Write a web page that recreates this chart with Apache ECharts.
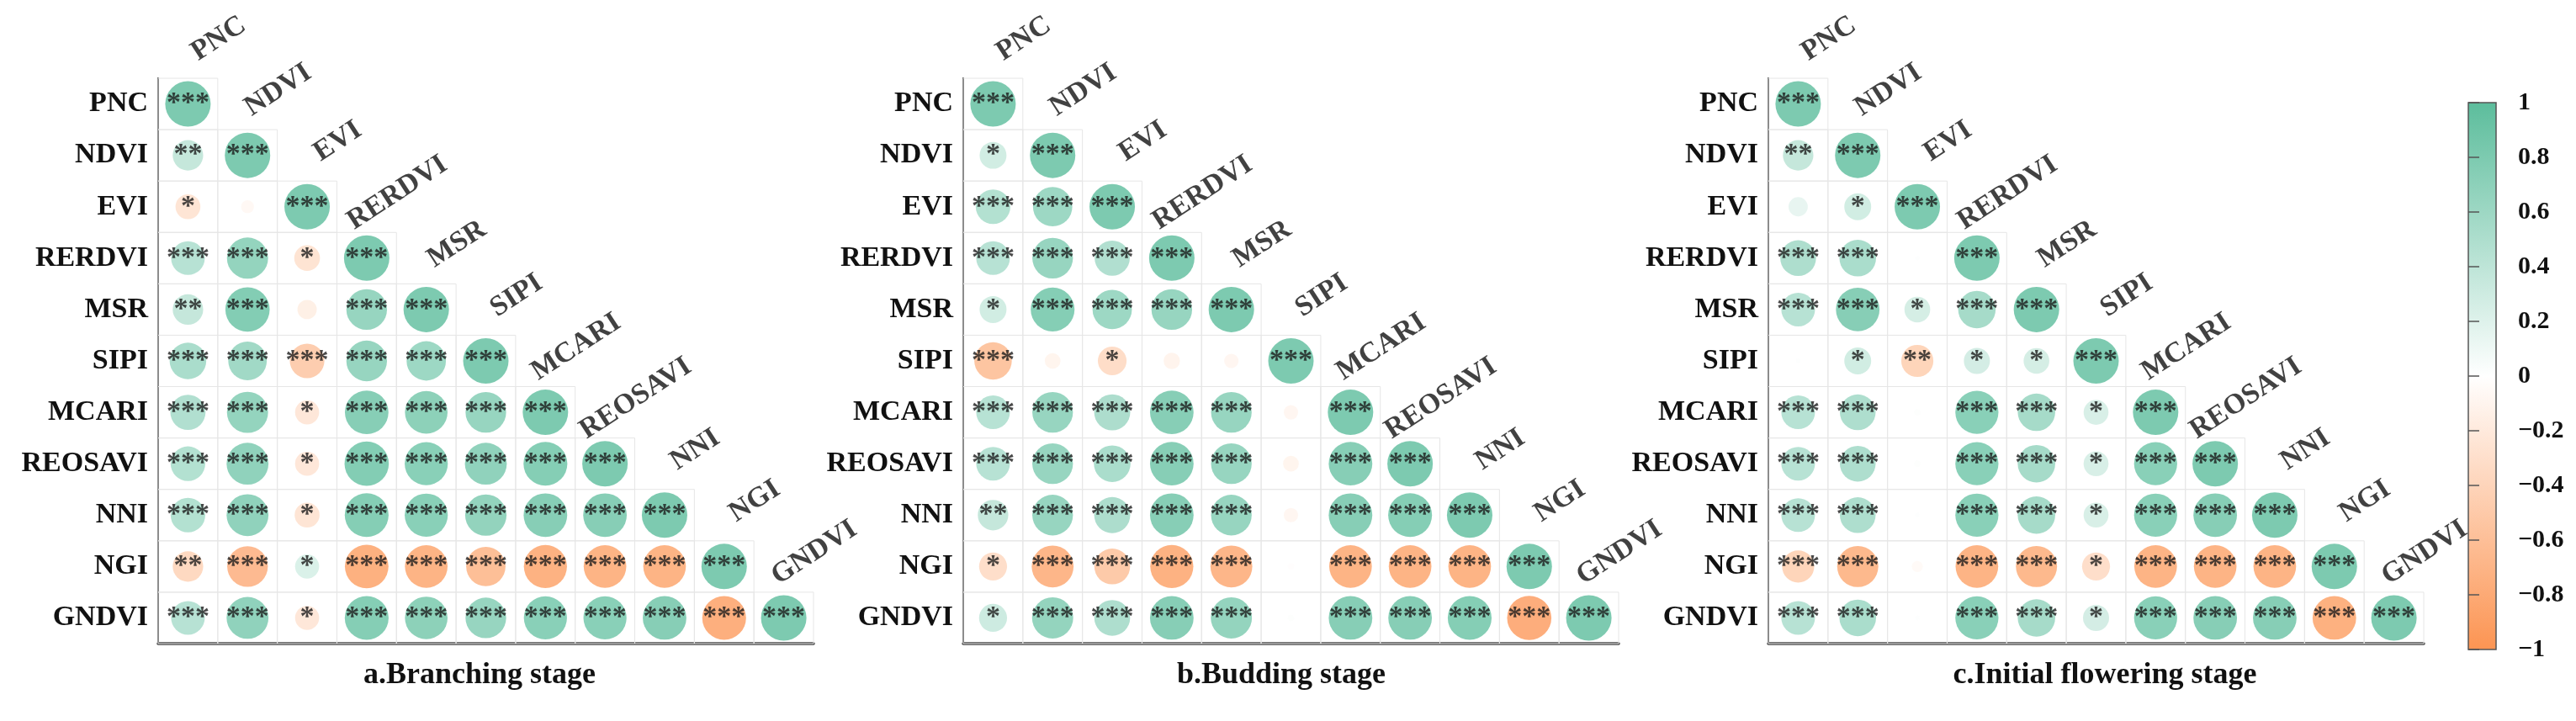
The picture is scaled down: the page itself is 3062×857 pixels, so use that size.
<!DOCTYPE html>
<html>
<head>
<meta charset="utf-8">
<script src="https://cdn.jsdelivr.net/npm/echarts@6/dist/echarts.min.js"></script>
<style>
  html, body { margin: 0; padding: 0; background: #fff; }
  #chart { width: 3062px; height: 857px; }
</style>
</head>
<body>
<div id="chart"></div>
<script>
// variables, same order on both axes
const vars = ['PNC', 'NDVI', 'EVI', 'RERDVI', 'MSR', 'SIPI', 'MCARI', 'REOSAVI', 'NNI', 'NGI', 'GNDVI']

// lower triangle of the correlation matrix, row i holds columns 0..i
const branchingR = [
  [1],
  [0.45, 1],
  [-0.3, -0.08, 1],
  [0.55, 0.82, -0.32, 1],
  [0.45, 0.95, -0.18, 0.8, 1],
  [0.65, 0.72, -0.58, 0.8, 0.75, 1],
  [0.6, 0.82, -0.28, 0.92, 0.88, 0.8, 1],
  [0.58, 0.85, -0.28, 0.95, 0.9, 0.85, 0.93, 1],
  [0.58, 0.85, -0.3, 0.93, 0.9, 0.83, 0.92, 0.92, 1],
  [-0.45, -0.8, 0.28, -0.92, -0.88, -0.75, -0.9, -0.88, -0.88, 1],
  [0.55, 0.85, -0.28, 0.93, 0.88, 0.8, 0.9, 0.9, 0.92, -0.93, 1]
]
// number of stars (0 = not significant)
const branchingSig = [
  [3],
  [2, 3],
  [1, 0, 3],
  [3, 3, 1, 3],
  [2, 3, 0, 3, 3],
  [3, 3, 3, 3, 3, 3],
  [3, 3, 1, 3, 3, 3, 3],
  [3, 3, 1, 3, 3, 3, 3, 3],
  [3, 3, 1, 3, 3, 3, 3, 3, 3],
  [2, 3, 1, 3, 3, 3, 3, 3, 3, 3],
  [3, 3, 1, 3, 3, 3, 3, 3, 3, 3, 3]
]

const buddingR = [
  [1],
  [0.35, 1],
  [0.58, 0.75, 1],
  [0.55, 0.8, 0.6, 1],
  [0.35, 0.93, 0.75, 0.8, 1],
  [-0.68, -0.12, -0.4, -0.13, -0.1, 1],
  [0.55, 0.8, 0.63, 0.92, 0.8, -0.1, 1],
  [0.55, 0.8, 0.65, 0.92, 0.8, -0.12, 0.92, 1],
  [0.45, 0.8, 0.63, 0.92, 0.8, -0.1, 0.92, 0.93, 1],
  [-0.38, -0.85, -0.62, -0.9, -0.85, -0.02, -0.88, -0.88, -0.88, 1],
  [0.38, 0.82, 0.62, 0.92, 0.82, 0.02, 0.92, 0.92, 0.93, -0.95, 1]
]
const buddingSig = [
  [3],
  [1, 3],
  [3, 3, 3],
  [3, 3, 3, 3],
  [1, 3, 3, 3, 3],
  [3, 0, 1, 0, 0, 3],
  [3, 3, 3, 3, 3, 0, 3],
  [3, 3, 3, 3, 3, 0, 3, 3],
  [2, 3, 3, 3, 3, 0, 3, 3, 3],
  [1, 3, 3, 3, 3, 0, 3, 3, 3, 3],
  [1, 3, 3, 3, 3, 0, 3, 3, 3, 3, 3]
]

const floweringR = [
  [1],
  [0.45, 1],
  [0.18, 0.35, 1],
  [0.62, 0.65, 0.01, 1],
  [0.55, 0.92, 0.32, 0.68, 1],
  [0.01, 0.35, -0.5, 0.33, 0.32, 1],
  [0.55, 0.62, 0.02, 0.9, 0.68, 0.3, 1],
  [0.55, 0.62, 0.02, 0.9, 0.68, 0.3, 0.9, 1],
  [0.55, 0.62, 0.01, 0.9, 0.68, 0.3, 0.9, 0.92, 1],
  [-0.5, -0.82, -0.06, -0.88, -0.82, -0.38, -0.88, -0.88, -0.88, 1],
  [0.55, 0.65, 0.01, 0.9, 0.68, 0.33, 0.9, 0.92, 0.92, -0.92, 1]
]
const floweringSig = [
  [3],
  [2, 3],
  [0, 1, 3],
  [3, 3, 0, 3],
  [3, 3, 1, 3, 3],
  [0, 1, 2, 1, 1, 3],
  [3, 3, 0, 3, 3, 1, 3],
  [3, 3, 0, 3, 3, 1, 3, 3],
  [3, 3, 0, 3, 3, 1, 3, 3, 3],
  [3, 3, 0, 3, 3, 1, 3, 3, 3, 3],
  [3, 3, 0, 3, 3, 1, 3, 3, 3, 3, 3]
]

const panelTitles = ['a.Branching stage', 'b.Budding stage', 'c.Initial flowering stage']

const panels = [
  {r: branchingR, sig: branchingSig, left: 188, titleX: 570},
  {r: buddingR, sig: buddingSig, left: 1145, titleX: 1523},
  {r: floweringR, sig: floweringSig, left: 2102, titleX: 2502}
]

const FONT = "'Times New Roman', 'Liberation Serif', serif"
const GREEN = '#5cbd9c'
const ORANGE = '#fc9452'
const MAX_DOT = 54

let chart = echarts.init(document.getElementById('chart'))

function renderCell(params, api) {
  let c = api.coord([api.value(0), api.value(1)])
  let s = api.size([1, 1])
  return {
    type: 'rect',
    shape: {x: c[0] - s[0] / 2, y: c[1] - s[1] / 2, width: s[0], height: s[1]},
    style: {fill: 'none', stroke: '#e6e6e6', lineWidth: 1}
  }
}

let grids = [], xAxes = [], yAxes = [], series = [], titles = [], dotSeries = []

panels.forEach((p, k) => {
  grids.push({left: p.left, width: 779, top: 93, height: 672})
  xAxes.push({
    type: 'category', gridIndex: k, data: vars,
    axisLabel: {show: false}, axisTick: {show: false}, splitLine: {show: false},
    axisLine: {show: true, lineStyle: {color: '#474747', width: 3.5}}
  })
  yAxes.push({
    type: 'category', gridIndex: k, data: vars, inverse: true,
    axisTick: {show: false}, splitLine: {show: false},
    axisLine: {show: true, lineStyle: {color: '#333', width: 2}},
    axisLabel: {fontFamily: FONT, fontSize: 34, fontWeight: 'bold', color: '#111', margin: 12}
  })

  let cells = [], dots = [], diag = []
  p.r.forEach((row, i) => {
    row.forEach((v, j) => {
      cells.push([j, i])
      dots.push([j, i, v, p.sig[i][j]])
    })
    diag.push({name: vars[i], value: [i, i]})
  })

  series.push({
    type: 'custom', xAxisIndex: k, yAxisIndex: k, z: 1,
    renderItem: renderCell, data: cells, silent: true
  })
  dotSeries.push(series.length)
  series.push({
    type: 'scatter', xAxisIndex: k, yAxisIndex: k, z: 2,
    data: dots,
    symbolSize: val => MAX_DOT * Math.sqrt(Math.abs(val[2])),
    label: {
      show: true, position: 'inside',
      formatter: d => '*'.repeat(d.value[3]),
      fontFamily: FONT, fontSize: 34, fontWeight: 'bold', color: '#1c1c1c'
    },
    emphasis: {disabled: true}
  })
  series.push({
    type: 'scatter', xAxisIndex: k, yAxisIndex: k, z: 3,
    data: diag, symbolSize: 1,
    itemStyle: {color: 'rgba(0,0,0,0)'},
    label: {
      show: true, position: [37, -77], rotate: 33,
      align: 'center', verticalAlign: 'middle',
      formatter: '{b}', fontFamily: FONT, fontSize: 34, fontWeight: 'bold', color: '#111'
    },
    emphasis: {disabled: true}
  })

  titles.push({
    text: panelTitles[k], left: p.titleX, top: 785, textAlign: 'center', padding: 0,
    textStyle: {fontFamily: FONT, fontSize: 36, fontWeight: 'bold', color: '#111'}
  })
})

// colour bar
grids.push({
  left: 2934, width: 33, top: 122, height: 650, show: true,
  borderColor: '#555', borderWidth: 1.5,
  backgroundColor: {
    type: 'linear', x: 0, y: 0, x2: 0, y2: 1,
    colorStops: [{offset: 0, color: GREEN}, {offset: 0.5, color: '#ffffff'}, {offset: 1, color: ORANGE}]
  }
})
xAxes.push({type: 'value', gridIndex: 3, show: false})
yAxes.push({
  type: 'value', gridIndex: 3, position: 'right', min: -1, max: 1, interval: 0.2,
  splitLine: {show: false},
  axisLine: {show: false},
  axisTick: {show: true, length: 13, lineStyle: {color: '#555', width: 1.5}},
  axisLabel: {
    margin: 26, fontFamily: FONT, fontSize: 30, fontWeight: 'bold', color: '#111',
    formatter: v => String(Math.round(v * 10) / 10).replace('-', '\u2212')
  }
})

chart.setOption({
  animation: false,
  backgroundColor: '#fff',
  title: titles,
  grid: grids,
  xAxis: xAxes,
  yAxis: yAxes,
  visualMap: {
    type: 'continuous', show: false, min: -1, max: 1, dimension: 2,
    seriesIndex: dotSeries,
    inRange: {color: [ORANGE, '#ffffff', GREEN]}
  },
  series: series
})
</script>
</body>
</html>
